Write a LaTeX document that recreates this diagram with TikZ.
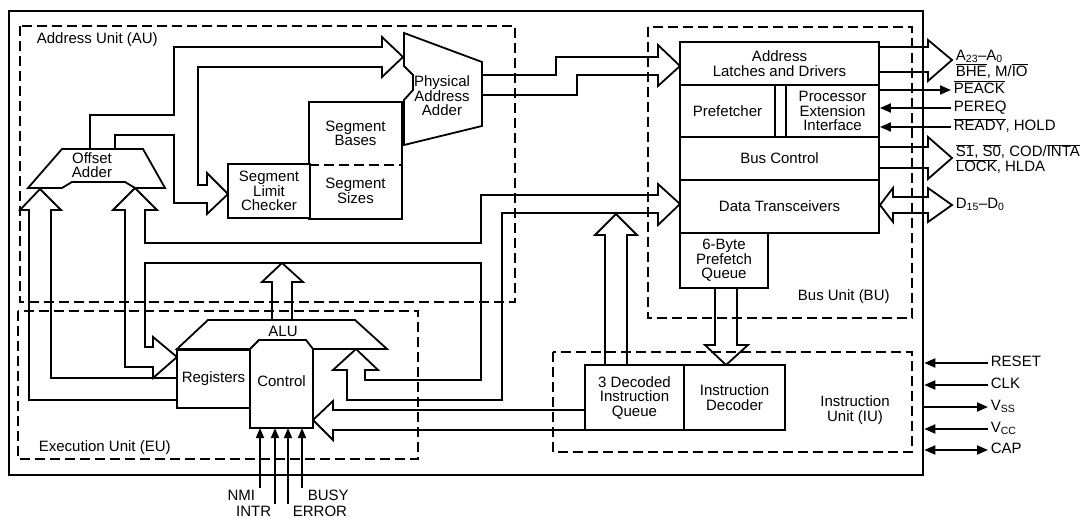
\documentclass[tikz,border=0pt]{standalone}
\usepackage{fontspec}
\setmainfont{Liberation Sans}
\usetikzlibrary{arrows.meta}
\newcommand{\lowact}[1]{$\overline{\mbox{#1}}$}

\begin{document}
\begin{tikzpicture}[x=1pt, y=-1pt, line width=1.8pt,
    font=\fontsize{15pt}{14.5pt}\selectfont,
    unit/.style={dash pattern=on 10pt off 5pt, line width=1.8pt},
    blk/.style={draw, fill=white, align=center, inner sep=1pt},
    txt/.style={align=center, inner sep=1pt},
    pinlbl/.style={anchor=west, inner sep=2pt, text height=10pt, text depth=3pt},
    buslbl/.style={anchor=west, align=left, inner sep=2pt, font=\fontsize{15pt}{12.5pt}\selectfont},
    pinarr/.style={-{Triangle[length=11pt,width=9pt]}},
    pinboth/.style={{Triangle[length=11pt,width=9pt]}-{Triangle[length=11pt,width=9pt]}},
    ctlpin/.style={line width=1.5pt, -{Triangle[length=10pt,width=8pt]}}]
    \useasboundingbox (0,0) rectangle (1084,518);

    % draw chip outline
    \node[draw, line width=2.6pt, minimum width=914pt, minimum height=464pt, inner sep=0pt] (chip) at (466,243) {};

    % draw dashed unit outlines
    \draw[unit] (20,26) rectangle (515,302);
    \draw[unit] (18,311) rectangle (418,459);
    \draw[unit] (648,27) rectangle (912,318);
    \draw[unit] (553,352) rectangle (912,452);
    \node[anchor=west, inner sep=1pt] (aulbl) at (35,40) {Address Unit (AU)};
    \node[anchor=west, inner sep=1pt] (eulbl) at (37,448) {Execution Unit (EU)};
    \node[anchor=west, inner sep=1pt] (bulbl) at (796,297) {Bus Unit (BU)};
    \node[txt] (iulbl) at (855,410) {Instruction\\Unit (IU)};

    % draw offset adder output bus
    \draw (90,149) |- (174,115) -- (174,47) -- (382,47) -- (382,37) -- (403,57) -- (382,77) -- (382,67)
        -- (198,67) -- (198,185) -- (207,185) -- (207,173) -- (228,194) -- (207,214) -- (207,203)
        -- (174,203) -- (174,135) -| (115,149);

    % draw register bus into offset adder
    \draw (177,400) -- (29,400) -- (29,210) -- (20,210) -- (40,189) -- (61,210) -- (51,210) -- (51,378) -- (177,378);

    % draw data bus
    \draw (145,210) -- (145,243) -- (481,243) -- (481,195) -- (658,195) -- (658,184) -- (680,204) -- (658,225)
        -- (658,213) -- (502,213) -- (502,400) -- (347,400) -- (347,370) -- (333,370) -- (356,349)
        -- (378,370) -- (365,370) -- (365,380) -- (481,380) -- (481,263) -- (145,263) -- (145,347)
        -- (153,347) -- (153,337) -- (177,357) -- (153,378) -- (153,367) -- (125,367) -- (125,210)
        -- (113,210) -- (135,188) -- (157,210) -- cycle;

    % draw ALU output
    \draw (272,320) -- (272,282) -- (262,282) -- (282,263) -- (303,282) -- (292,282) -- (292,320);

    % draw instruction buses
    \draw (585,410) -- (333,410) -- (333,401) -- (313,420) -- (333,440) -- (333,430) -- (585,430);
    \draw (605,365) -- (605,235) -- (595,235) -- (616,214) -- (637,235) -- (627,235) -- (627,365);
    \draw (715,288) -- (715,345) -- (705,345) -- (726,365) -- (748,345) -- (737,345) -- (737,288);

    % draw physical address bus
    \draw (482,75) -| (556,57) -- (658,57) -- (658,45) -- (680,66) -- (658,86) -- (658,75) -- (577,75) |- (482,95);

    % draw external buses
    \draw (879,47) -- (928,47) -- (928,40) -- (952,60) -- (928,81) -- (928,72) -- (879,72);
    \draw (879,147) -- (928,147) -- (928,137) -- (952,158) -- (928,179) -- (928,168) -- (879,168);
    \draw (880,205) -- (893,188) -- (893,197) -- (928,197) -- (928,188) -- (952,205) -- (928,222)
        -- (928,213) -- (893,213) -- (893,222) -- cycle;

    % draw adders
    \draw[fill=white] (62,149) -- (143,149) -- (165,188) -- (135,188) -- (125,182) -- (72,182) -- (62,188) -- (28,188) -- cycle;
    \node[txt] (offadd) at (92,165) {Offset\\Adder};
    \draw[fill=white] (404,33) -- (482,62) -- (482,126) -- (404,145) -- (404,100) -- (413,90) -- (413,75) -- (404,66) -- cycle;
    \node[txt] (physadd) at (442,96) {Physical\\Address\\Adder};

    % draw segment unit
    \node[txt, fill=white, minimum width=91pt, minimum height=61pt] (sbase) at (355.5,133.5) {Segment\\Bases};
    \node[txt, fill=white, minimum width=91pt, minimum height=54pt] (ssize) at (355.5,191) {Segment\\Sizes};
    \draw (sbase.south west) -- (sbase.north west) -- (sbase.north east) -- (ssize.south east) -- (ssize.south west) -- cycle;
    \draw[unit, line width=1.6pt] (sbase.south west) -- (sbase.south east);
    \node[blk, minimum width=82pt, minimum height=54pt] (slc) at (269,191) {Segment\\Limit\\Checker};

    % draw execution unit
    \draw[fill=white] (177,349) -- (208,320) -- (355,320) -- (387,349) -- cycle;
    \node[txt] (alu) at (283,331) {ALU};
    \node[blk, minimum width=73pt, minimum height=58pt] (regs) at (213.5,379) {Registers};
    \draw[fill=white] (250,428) -- (250,349) -- (259,340) -- (306,340) -- (313,349) -- (313,428) -- cycle;
    \node[txt] (ctrl) at (281.5,381) {Control};
    \coordinate (ctrlb) at (281,428);

    % draw bus unit
    \node[blk, minimum width=199pt, minimum height=43pt] (ald) at (779.5,63.5) {Address\\Latches and Drivers};
    \node[blk, minimum width=95pt, minimum height=52pt] (pref) at (727.5,111) {Prefetcher};
    \node[blk, minimum width=93pt, minimum height=52pt] (pei) at (832.5,111) {Processor\\Extension\\Interface};
    \node[blk, minimum width=199pt, minimum height=43pt] (busctl) at (779.5,158.5) {Bus Control};
    \node[blk, minimum width=199pt, minimum height=53pt] (dtr) at (779.5,206.5) {Data Transceivers};
    \node[blk, minimum width=88pt, minimum height=55pt] (pfq) at (724,260.5) {6-Byte\\Prefetch\\Queue};

    % draw instruction unit
    \node[blk, minimum width=99pt, minimum height=65pt] (diq) at (634.5,397.5) {3 Decoded\\Instruction\\Queue};
    \node[blk, minimum width=101pt, minimum height=65pt] (idec) at (734.5,397.5) {Instruction\\Decoder};

    % control inputs
    \node[anchor=east, inner sep=1pt] (nmi) at (257,495) {NMI};
    \node[anchor=east, inner sep=1pt] (intr) at (273,511) {INTR};
    \node[anchor=west, inner sep=1pt] (busy) at (306,495) {BUSY};
    \node[anchor=west, inner sep=1pt] (error) at (291,511) {ERROR};
    \draw[ctlpin] ([xshift=3pt]nmi.north east) -- ([xshift=3pt]nmi.north east |- ctrlb);
    \draw[ctlpin] ([xshift=2pt]intr.north east) -- ([xshift=2pt]intr.north east |- ctrlb);
    \draw[ctlpin] ([xshift=-3pt]error.north west) -- ([xshift=-3pt]error.north west |- ctrlb);
    \draw[ctlpin] ([xshift=-4pt]busy.north west) -- ([xshift=-4pt]busy.north west |- ctrlb);

    % bus unit pins
    \node[buslbl] (abus) at (953,64) {A\textsubscript{23}--A\textsubscript{0}\\\lowact{BHE}, M/\lowact{IO}};
    \node[pinlbl] (peack) at (951,90) {\lowact{PEACK}};
    \node[pinlbl] (pereq) at (951,108) {PEREQ};
    \node[pinlbl] (ready) at (951,127) {\lowact{READY}, HOLD};
    \node[buslbl] (stat) at (953,159) {\lowact{S1}, \lowact{S0}, COD/\lowact{INTA}\\\lowact{LOCK}, HLDA};
    \node[pinlbl] (dbus) at (953,205) {D\textsubscript{15}--D\textsubscript{0}};
    \draw[pinarr] (peack.west -| pei.east) -- (peack.west);
    \draw[pinarr] (pereq.west) -- (pereq.west -| pei.east);
    \draw[pinarr] (ready.west) -- (ready.west -| pei.east);

    % chip pins
    \node[pinlbl] (reset) at (988,363) {RESET};
    \node[pinlbl] (clk) at (988,385) {CLK};
    \node[pinlbl] (vss) at (988,407) {V\textsubscript{SS}};
    \node[pinlbl] (vcc) at (988,429) {V\textsubscript{CC}};
    \node[pinlbl] (cap) at (988,450) {CAP};
    \draw[pinarr] (reset.west) -- (reset.west -| chip.east);
    \draw[pinarr] (clk.west) -- (clk.west -| chip.east);
    \draw[pinarr] (vss.west -| chip.east) -- (vss.west);
    \draw[pinarr] (vcc.west) -- (vcc.west -| chip.east);
    \draw[pinboth] (cap.west -| chip.east) -- (cap.west);

\end{tikzpicture}
\end{document}
